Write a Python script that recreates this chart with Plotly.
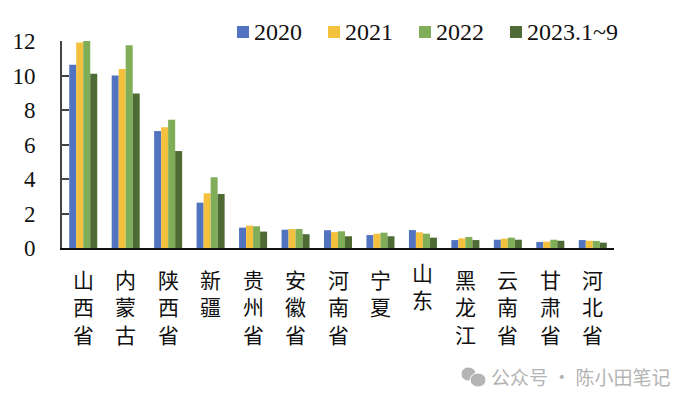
import plotly.graph_objects as go

categories = ["山西省", "内蒙古", "陕西省", "新疆", "贵州省", "安徽省", "河南省", "宁夏", "山东", "黑龙江", "云南省", "甘肃省", "河北省"]
v2020 = [10.63, 10.0, 6.78, 2.63, 1.18, 1.06, 1.03, 0.75, 1.04, 0.46, 0.48, 0.35, 0.46]
v2021 = [11.92, 10.38, 7.0, 3.17, 1.3, 1.1, 0.92, 0.83, 0.91, 0.56, 0.54, 0.37, 0.42]
v2022 = [12.0, 11.75, 7.44, 4.1, 1.26, 1.1, 0.97, 0.89, 0.83, 0.64, 0.6, 0.48, 0.41]
v2023 = [10.1, 8.95, 5.62, 3.13, 0.95, 0.8, 0.68, 0.68, 0.6, 0.46, 0.48, 0.42, 0.31]
series_names = ["2020", "2021", "2022", "2023.1~9"]
series_values = [v2020, v2021, v2022, v2023]
colors = ["#5273C0", "#F4C13F", "#7FAD58", "#4E6A35"]
y_ticks = [0, 2, 4, 6, 8, 10, 12]

OFF = 8  # default page margin of the HTML body
W, H = 692 - 2 * OFF, 404 - 2 * OFF
L, R, T, B = 62 - OFF, 614 - OFF, 41 - OFF, 248 - OFF
SERIF = "Liberation Serif"
CJK = "Noto Sans CJK SC"

def px(x):
    return (x - OFF - L) / (R - L)

def py(y):
    return (B - (y - OFF)) / (B - T)

fig = go.Figure()
for name, vals, c in zip(series_names, series_values, colors):
    fig.add_trace(go.Bar(x=categories, y=vals, name=name, marker=dict(color=c, line=dict(width=0))))

annotations = []
for cat in categories:
    annotations.append(dict(
        x=cat, xref="x", y=0, yref="paper", yanchor="top", xanchor="center",
        yshift=-(7 if cat == "山东" else 14), showarrow=False, align="center",
        text="<br>".join(cat), font=dict(family=CJK, size=21, color="#111111"),
    ))
annotations.append(dict(
    x=px(489), xref="paper", y=py(376), yref="paper", xanchor="left", yanchor="middle",
    showarrow=False, text="公众号 · 陈小田笔记",
    font=dict(family=CJK, size=19, color="#B4B4B4"),
))

shapes = []
for x0, y0, x1, y1 in [(461, 367, 476, 381), (470, 373, 486, 387)]:
    shapes.append(dict(type="circle", xref="paper", yref="paper", x0=px(x0), x1=px(x1),
                       y0=py(y0), y1=py(y1), fillcolor="#B4B4B4",
                       line=dict(color="#FFFFFF", width=1)))

# legend: swatch + label close together, as in the reference
for i, (name, c) in enumerate(zip(series_names, colors)):
    sx = 237 + 91 * i
    shapes.append(dict(type="rect", xref="paper", yref="paper", x0=px(sx), x1=px(sx + 12),
                       y0=py(26), y1=py(38), fillcolor=c, line=dict(width=0)))
    annotations.append(dict(
        x=px(sx + 15), xref="paper", y=py(32), yref="paper", xanchor="left", yanchor="middle",
        showarrow=False, text=name, font=dict(family=SERIF, size=24, color="#111111"),
    ))

fig.update_layout(
    width=W, height=H, autosize=False,
    margin=dict(l=L, r=W - R, t=T, b=H - B, pad=0, autoexpand=False),
    paper_bgcolor="white", plot_bgcolor="white",
    barmode="group", bargap=0.34, bargroupgap=0,
    showlegend=False,
    annotations=annotations, shapes=shapes,
    xaxis=dict(showticklabels=False, ticks="", showgrid=False, showline=True, automargin=False,
               linecolor="#111111", linewidth=2, zeroline=False,
               categoryorder="array", categoryarray=categories),
    yaxis=dict(range=[0, 12], tickvals=y_ticks, ticks="inside", ticklen=7, tickwidth=2,
               tickcolor="#444444", showline=True, linecolor="#444444", linewidth=2, automargin=False,
               showgrid=False, zeroline=False, ticklabelstandoff=20,
               tickfont=dict(family=SERIF, size=23, color="#111111")),
)
fig.write_html("out.html")
